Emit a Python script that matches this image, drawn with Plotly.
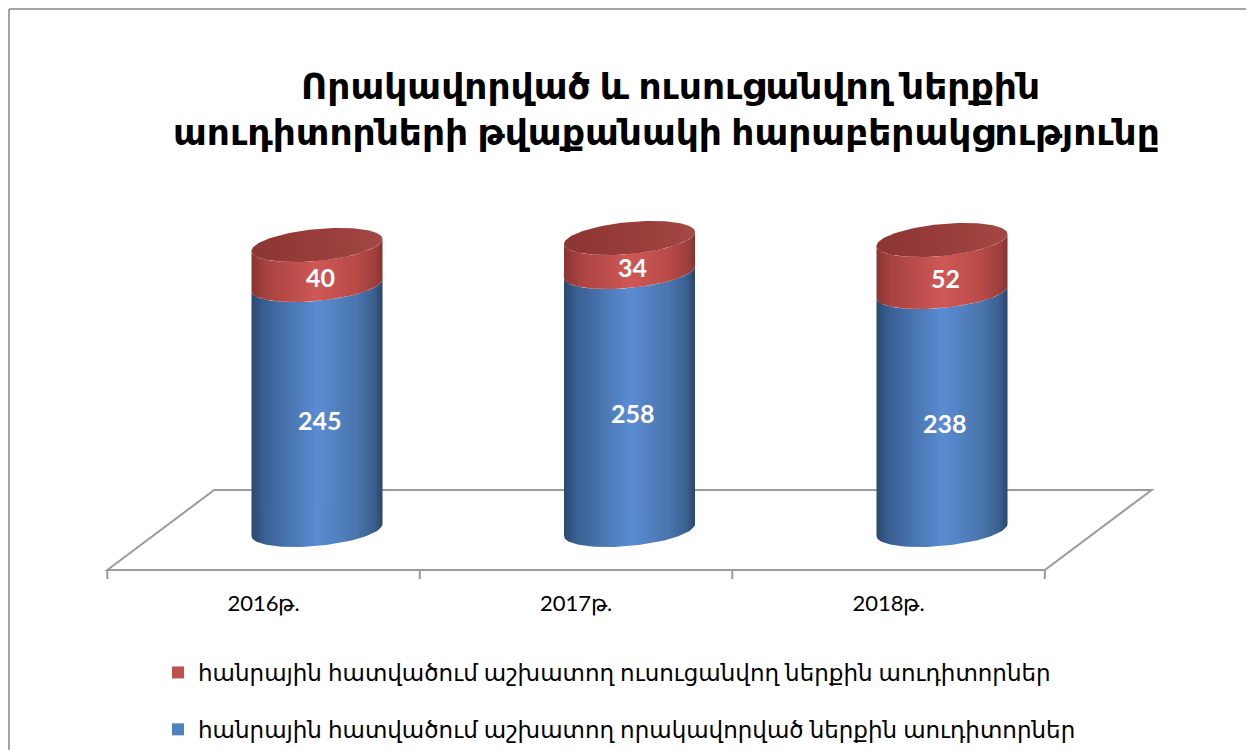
import numpy as np
import plotly.graph_objects as go

# ---------------- data ----------------
categories = ["2016թ.", "2017թ.", "2018թ."]
qualified = [245, 258, 238]        # blue (bottom)
trainee = [40, 34, 52]             # red (top)
name_trainee = "հանրային հատվածում աշխատող ուսուցանվող ներքին աուդիտորներ"
name_qualified = "հանրային հատվածում աշխատող որակավորված ներքին աուդիտորներ"
title_lines = ["Որակավորված և ուսուցանվող ներքին",
               "աուդիտորների թվաքանակի հարաբերակցությունը"]

# ---------------- layout geometry (figure pixels) ----------------
W, H = 1254, 750
PL, PR, PT, PB = 92, 1152, 192, 574      # plot area edges
XR = [-0.6944, 2.6976]
YR = [-52, 330]


def px_x(px):   # figure pixel -> paper x
    return (px - PL) / (PR - PL)


def px_y(py):   # figure pixel -> paper y
    return (PB - py) / (PB - PT)


# ---------------- style / geometry ----------------
A = 0.2096       # cylinder half width (x units)
B = 16.0         # ellipse half height (y units)
S = 6.0          # perspective tilt of ellipses
DEPTH_X = 0.342  # floor depth offset (x units)
DEPTH_V = 80.0   # floor depth offset (y units)
FLOOR_COLOR = "#9B9B9B"
BORDER_COLOR = "#868686"

blue_scale = [[0, "#2A4870"], [0.1, "#3A6093"], [0.5, "#5A8CD2"],
              [0.8, "#4A76AE"], [0.94, "#3A5F8E"], [1, "#2A466C"]]
red_scale = [[0, "#8A3432"], [0.12, "#A84341"], [0.5, "#CF5856"],
             [0.8, "#B84A48"], [0.94, "#9E3F3D"], [1, "#873432"]]
cap_scale = [[0, "#8C3533"], [0.6, "#9A3E3C"], [1, "#A44846"]]

t_low = np.linspace(np.pi, 2 * np.pi, 60)
t_full = np.linspace(0, 2 * np.pi, 120)


def arc(cx, cv, t):
    return cx + A * np.cos(t), cv + B * np.sin(t) + S * np.cos(t)


fig = go.Figure()
NOLINE = dict(width=0, color="rgba(0,0,0,0)")
LABEL_FONT = dict(family="Lato, Open Sans, sans-serif", size=25, color="white")

for i, cat in enumerate(categories):
    v1 = qualified[i]
    v2 = v1 + trainee[i]
    # blue body
    bx, by = arc(i, 0, t_low)
    tx, ty = arc(i, v1, t_low[::-1])
    fig.add_trace(go.Scatter(
        x=np.concatenate([bx, tx, bx[:1]]), y=np.concatenate([by, ty, by[:1]]),
        mode="lines", fill="toself", line=NOLINE,
        fillgradient=dict(type="horizontal", colorscale=blue_scale),
        hoverinfo="skip", showlegend=False))
    # red body
    bx, by = arc(i, v1, t_low)
    tx, ty = arc(i, v2, t_low[::-1])
    fig.add_trace(go.Scatter(
        x=np.concatenate([bx, tx, bx[:1]]), y=np.concatenate([by, ty, by[:1]]),
        mode="lines", fill="toself", line=NOLINE,
        fillgradient=dict(type="horizontal", colorscale=red_scale),
        hoverinfo="skip", showlegend=False))
    # top cap
    cx_, cy_ = arc(i, v2, t_full)
    fig.add_trace(go.Scatter(
        x=cx_, y=cy_, mode="lines", fill="toself", line=NOLINE,
        fillgradient=dict(type="horizontal", colorscale=cap_scale),
        hoverinfo="skip", showlegend=False))
    # value labels
    fig.add_annotation(x=i + 0.01, y=v1 / 2, text=f"<b>{qualified[i]}</b>", showarrow=False,
                       yshift=-12, font=LABEL_FONT)
    fig.add_annotation(x=i + 0.01, y=v1 + trainee[i] / 2, text=f"<b>{trainee[i]}</b>",
                       showarrow=False, yshift=-12, font=LABEL_FONT)

# legend-only traces
fig.add_trace(go.Scatter(x=[None], y=[None], mode="markers", name=name_trainee,
                         marker=dict(symbol="square", size=15, color="#C0504D"), legendgroup="a"))
fig.add_trace(go.Scatter(x=[None], y=[None], mode="markers", name=name_qualified,
                         marker=dict(symbol="square", size=15, color="#4F81BD"), legendgroup="b"))

# floor
n = len(categories)
fx0, fx1 = -0.5 - DEPTH_X / 2, n - 0.5 - DEPTH_X / 2
fv0, fv1 = -DEPTH_V / 2, DEPTH_V / 2
floor_path = (f"M {fx0},{fv0} L {fx0 + DEPTH_X},{fv1} L {fx1 + DEPTH_X},{fv1} "
              f"L {fx1},{fv0} Z")
shapes = [dict(type="path", path=floor_path, xref="x", yref="y",
               line=dict(color=FLOOR_COLOR, width=2), layer="below")]
for k in range(n + 1):
    xk = k - 0.5 - DEPTH_X / 2
    shapes.append(dict(type="line", x0=xk, x1=xk, y0=fv0, y1=fv0 - 9, xref="x", yref="y",
                       line=dict(color=FLOOR_COLOR, width=2), layer="below"))
# outer chart border: top, left and right edges as separate lines (paper coords)
bl, br, bt, bb = px_x(1), px_x(1242), px_y(1), px_y(H + 20)
for (x0, y0, x1, y1) in [(bl, bt, br, bt), (bl, bt, bl, bb), (br, bt, br, bb)]:
    shapes.append(dict(type="line", xref="paper", yref="paper", x0=x0, y0=y0, x1=x1, y1=y1,
                       line=dict(color=BORDER_COLOR, width=1.5)))

# title lines
TITLE_FONT = dict(family="Noto Sans, DejaVu Sans, sans-serif", size=36, color="black")
fig.add_annotation(xref="paper", yref="paper", x=px_x(662), y=px_y(77), yanchor="middle",
                   text=f"<b>{title_lines[0]}</b>", showarrow=False, font=TITLE_FONT)
fig.add_annotation(xref="paper", yref="paper", x=px_x(658), y=px_y(123), yanchor="middle",
                   text=f"<b>{title_lines[1]}</b>", showarrow=False, font=TITLE_FONT)

fig.update_layout(
    width=W, height=H,
    margin=dict(l=PL, r=W - PR, t=PT, b=H - PB, autoexpand=False),
    paper_bgcolor="white", plot_bgcolor="white",
    shapes=shapes,
    showlegend=True,
    legend=dict(x=px_x(150), y=px_y(643), xanchor="left", yanchor="top",
                orientation="v", tracegroupgap=24,
                font=dict(family="Noto Sans, DejaVu Sans, sans-serif", size=23, color="black"),
                itemsizing="constant", bgcolor="rgba(0,0,0,0)"),
    xaxis=dict(range=XR, showgrid=False, zeroline=False,
               showline=False, tickvals=[i - DEPTH_X / 2 for i in range(n)], ticktext=categories,
               ticks="", ticklabelstandoff=6,
               tickfont=dict(family="Lato, Open Sans, sans-serif", size=22, color="black"),
               fixedrange=True),
    yaxis=dict(range=YR, showgrid=False, zeroline=False, showline=False,
               showticklabels=False, fixedrange=True),
)

fig.write_html("out.html")
